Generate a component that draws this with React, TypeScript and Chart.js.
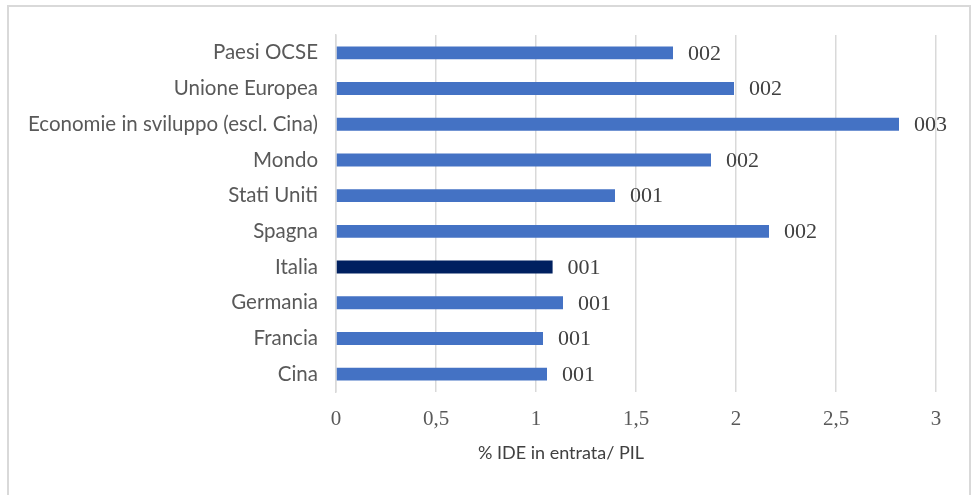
import { useEffect, useRef } from "react";
import { Chart, registerables } from "chart.js";

Chart.register(...registerables);

const categories = [
  "Paesi OCSE",
  "Unione Europea",
  "Economie in sviluppo (escl. Cina)",
  "Mondo",
  "Stati Uniti",
  "Spagna",
  "Italia",
  "Germania",
  "Francia",
  "Cina",
];
const values = [1.685, 1.99, 2.815, 1.875, 1.395, 2.165, 1.083, 1.135, 1.035, 1.055];
const valueLabels = ["002", "002", "003", "002", "001", "002", "001", "001", "001", "001"];
const highlighted = "Italia";
const axisTitle = "% IDE in entrata/ PIL";
const xMin = 0;
const xMax = 3;
const xStep = 0.5;

const SANS = "Lato, 'Open Sans', sans-serif";
const SERIF = "'Liberation Serif', 'DejaVu Serif', serif";

export default function App() {
  const canvasRef = useRef<HTMLCanvasElement | null>(null);

  useEffect(() => {
    const canvas = canvasRef.current;
    if (!canvas) return;

    const labelPlugin = {
      id: "valueLabels",
      afterDatasetsDraw(chart: any) {
        const ctx = chart.ctx;
        const meta = chart.getDatasetMeta(0);
        ctx.save();
        ctx.font = `22px ${SERIF}`;
        ctx.fillStyle = "#404040";
        ctx.textAlign = "left";
        ctx.textBaseline = "middle";
        meta.data.forEach((bar: any, i: number) => {
          ctx.fillText(valueLabels[i], bar.x + 15, bar.y + 1);
        });
        ctx.restore();
      },
    };

    const titlePlugin = {
      id: "axisTitle",
      afterDraw(chart: any) {
        const ctx = chart.ctx;
        const a = chart.chartArea;
        ctx.save();
        ctx.font = `18px ${SANS}`;
        ctx.fillStyle = "#404040";
        ctx.textAlign = "center";
        ctx.textBaseline = "middle";
        ctx.fillText(axisTitle, a.left + (a.right - a.left) * 0.375, a.bottom + 61);
        ctx.restore();
      },
    };

    const chart = new Chart(canvas, {
      type: "bar",
      data: {
        labels: categories,
        datasets: [
          {
            data: values,
            backgroundColor: categories.map((c) => (c === highlighted ? "#002060" : "#4472C4")),
            borderWidth: 0,
            barPercentage: 0.9,
            categoryPercentage: 0.4,
          },
        ],
      },
      options: {
        indexAxis: "y",
        animation: false,
        responsive: false,
        maintainAspectRatio: false,
        layout: { padding: { top: 35, right: 35, left: 0, bottom: 0 } },
        plugins: {
          legend: { display: false },
          tooltip: { enabled: false },
        },
        scales: {
          y: {
            type: "category",
            grid: { display: false, drawTicks: false },
            border: { display: true, color: "#d9d9d9", width: 1.5 },
            ticks: {
              font: { family: SANS, size: 20.5 },
              color: "#595959",
              padding: 18,
            },
            afterFit(scale: any) {
              scale.width = 336;
            },
          },
          x: {
            type: "linear",
            min: xMin,
            max: xMax,
            grid: { color: "#d9d9d9", lineWidth: 1.5, drawTicks: false },
            border: { display: false },
            ticks: {
              stepSize: xStep,
              font: { family: SERIF, size: 21 },
              color: "#595959",
              padding: 15,
              callback: (v: any) => String(v).replace(".", ","),
            },
            afterFit(scale: any) {
              scale.height = 495 - 392;
            },
          },
        },
      },
      plugins: [labelPlugin, titlePlugin],
    });

    return () => chart.destroy();
  }, []);

  return (
    <div style={{ position: "absolute", left: 0, top: 0, width: 971, height: 495, overflow: "hidden", background: "#fff" }}>
      <div
        style={{
          position: "absolute",
          left: 7,
          top: 5,
          width: 964,
          height: 600,
          boxSizing: "border-box",
          border: "2px solid #d9d9d9",
        }}
      />
      <canvas
        ref={canvasRef}
        width={971}
        height={495}
        style={{ position: "absolute", left: 0, top: 0, width: 971, height: 495, display: "block" }}
      />
    </div>
  );
}
